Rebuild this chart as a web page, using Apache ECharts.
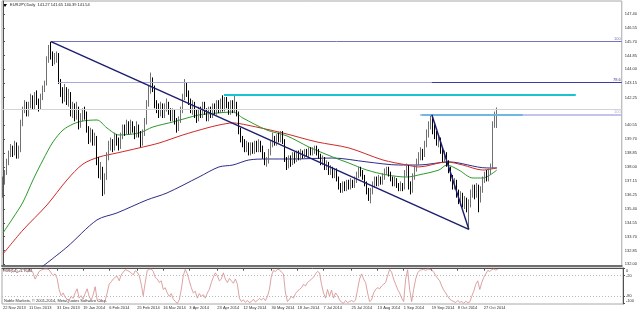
<!DOCTYPE html>
<html><head><meta charset="utf-8">
<script src="https://cdn.jsdelivr.net/npm/echarts@6/dist/echarts.min.js"></script>
<style>html,body{margin:0;padding:0;background:#fff}#c{width:640px;height:312px}</style>
</head><body><div id="c"></div><script>
const N_SLOTS = 310;
const opens = [136.6,137.1,137.6,138.3,138.8,139.1,138.9,139.4,138.7,139.0,
140.7,141.5,141.8,141.3,141.8,142.2,141.7,142.4,142.0,141.6,
142.3,142.8,143.1,144.6,145.2,144.9,144.5,144.8,144.9,143.3,
142.6,142.2,142.7,142.0,142.5,141.3,141.7,141.1,141.6,140.6,
141.0,141.4,141.2,140.3,139.7,140.1,139.5,139.8,138.4,137.6,
137.9,136.7,137.4,138.6,139.3,139.5,139.2,139.8,139.6,139.3,
139.9,140.4,140.1,140.6,140.2,140.7,140.3,139.9,140.5,140.0,
139.5,140.1,140.8,141.9,142.7,143.3,142.9,141.9,141.6,141.3,
141.7,141.2,141.6,141.9,141.4,141.0,141.4,140.8,140.4,140.9,
141.5,142.3,143.0,142.5,142.0,141.5,141.9,141.2,141.0,141.5,
141.2,141.8,141.4,141.0,141.5,141.2,141.7,141.4,141.9,141.5,
142.0,141.6,142.1,141.8,141.4,141.9,141.5,141.9,141.3,140.2,
139.7,139.5,139.1,139.4,138.9,139.3,139.0,139.4,139.1,139.5,
139.2,138.7,138.3,138.4,138.9,139.4,139.8,139.5,139.8,139.7,
139.9,139.6,138.5,138.1,138.5,138.3,138.7,138.5,138.9,138.6,
138.9,138.7,139.0,138.8,139.1,138.9,139.0,139.1,138.9,138.7,
138.3,138.5,138.0,138.2,137.7,137.9,137.5,137.8,137.3,136.8,
136.6,136.9,136.7,137.0,136.8,137.1,136.9,137.2,137.5,137.9,
137.7,137.4,137.0,136.6,136.2,136.5,136.9,137.2,137.0,137.3,
137.1,137.4,137.7,137.9,137.6,137.3,137.0,137.2,136.9,136.7,
136.9,136.7,137.6,138.0,136.9,136.6,137.4,137.9,138.3,138.6,
138.9,138.7,139.4,140.0,140.5,140.9,140.3,140.0,139.5,139.7,
139.0,138.6,138.8,138.2,137.9,137.3,136.9,137.1,136.4,136.0,
136.3,135.8,135.9,135.5,135.7,136.3,136.6,136.4,136.8,135.9,
136.6,137.2,137.5,137.3,137.7,138.0,140.6,141.27];
const closes = [137.1,137.6,138.3,138.8,139.1,138.9,139.4,138.7,139.0,140.7,
141.5,141.8,141.3,141.8,142.2,141.7,142.4,142.0,141.6,142.3,
142.8,143.1,144.6,145.2,144.9,144.5,144.8,144.9,143.3,142.6,
142.2,142.7,142.0,142.5,141.3,141.7,141.1,141.6,140.6,141.0,
141.4,141.2,140.3,139.7,140.1,139.5,139.8,138.4,137.6,137.9,
136.7,137.4,138.6,139.3,139.5,139.2,139.8,139.6,139.3,139.9,
140.4,140.1,140.6,140.2,140.7,140.3,139.9,140.5,140.0,139.5,
140.1,140.8,141.9,142.7,143.3,142.9,141.9,141.6,141.3,141.7,
141.2,141.6,141.9,141.4,141.0,141.4,140.8,140.4,140.9,141.5,
142.3,143.0,142.5,142.0,141.5,141.9,141.2,141.0,141.5,141.2,
141.8,141.4,141.0,141.5,141.2,141.7,141.4,141.9,141.5,142.0,
141.6,142.1,141.8,141.4,141.9,141.5,141.9,141.3,140.2,139.7,
139.5,139.1,139.4,138.9,139.3,139.0,139.4,139.1,139.5,139.2,
138.7,138.3,138.4,138.9,139.4,139.8,139.5,139.8,139.7,139.9,
139.6,138.5,138.1,138.5,138.3,138.7,138.5,138.9,138.6,138.9,
138.7,139.0,138.8,139.1,138.9,139.0,139.1,138.9,138.7,138.3,
138.5,138.0,138.2,137.7,137.9,137.5,137.8,137.3,136.8,136.6,
136.9,136.7,137.0,136.8,137.1,136.9,137.2,137.5,137.9,137.7,
137.4,137.0,136.6,136.2,136.5,136.9,137.2,137.0,137.3,137.1,
137.4,137.7,137.9,137.6,137.3,137.0,137.2,136.9,136.7,136.9,
136.7,137.6,138.0,136.9,136.6,137.4,137.9,138.3,138.6,138.9,
138.7,139.4,140.0,140.5,140.9,140.3,140.0,139.5,139.7,139.0,
138.6,138.8,138.2,137.9,137.3,136.9,137.1,136.4,136.0,136.3,
135.8,135.9,135.5,135.7,136.3,136.6,136.4,136.8,135.9,136.6,
137.2,137.5,137.3,137.7,138.0,140.6,141.27,141.54];
const highs = [137.4,137.8,138.5,139.0,139.4,139.3,139.6,139.5,139.3,140.9,
141.7,142.1,142.0,142.0,142.5,142.4,142.6,142.7,142.2,142.5,
143.0,143.3,144.8,145.5,145.7,145.1,145.0,145.1,145.0,143.4,
142.9,143.1,142.9,142.8,142.6,142.0,141.9,142.0,141.7,141.3,
141.6,141.7,141.4,140.5,140.4,140.3,140.1,139.9,138.6,138.3,
138.0,137.6,138.9,139.6,139.8,139.7,140.1,140.0,139.8,140.1,
140.6,140.6,140.9,140.8,140.9,140.8,140.5,140.8,140.6,140.2,
140.3,141.0,142.1,143.0,143.8,143.5,143.0,142.1,141.9,142.0,
141.9,141.9,142.2,142.0,141.6,141.6,141.5,141.0,141.1,141.7,
142.5,143.4,143.2,142.7,142.2,142.1,142.0,141.5,141.7,141.7,
142.0,142.0,141.6,141.7,141.7,141.9,141.9,142.1,142.1,142.2,
142.4,142.3,142.3,142.0,142.1,142.1,142.4,142.0,141.4,140.4,
139.9,139.7,139.6,139.5,139.5,139.5,139.6,139.6,139.7,139.6,
139.3,138.9,138.6,139.1,139.6,140.1,139.9,140.0,140.1,140.2,
140.2,139.7,138.6,138.7,138.7,138.9,138.9,139.0,139.0,139.1,
139.0,139.1,139.1,139.2,139.2,139.2,139.3,139.3,139.1,138.8,
138.7,138.6,138.4,138.3,138.1,138.0,137.9,137.9,137.4,137.0,
137.1,137.1,137.2,137.2,137.3,137.2,137.4,137.7,138.0,138.0,
137.8,137.5,137.1,136.7,136.7,137.1,137.4,137.4,137.5,137.4,
137.6,137.9,138.0,138.0,137.7,137.4,137.4,137.3,137.0,137.1,
137.0,137.8,138.2,138.1,137.1,137.6,138.1,138.5,138.9,139.2,
139.1,139.6,140.3,140.8,141.2,141.0,140.6,140.2,139.9,139.8,
139.2,139.0,138.9,138.4,138.0,137.5,137.3,137.2,136.6,136.5,
136.4,136.2,136.1,136.0,136.6,136.9,136.9,137.0,136.9,136.8,
137.4,137.7,137.8,137.9,138.2,140.8,141.4,141.65];
const lows = [136.1,136.9,137.5,138.1,138.6,138.6,138.7,138.5,138.5,138.9,
140.5,141.3,141.1,141.1,141.6,141.5,141.5,141.8,141.4,141.5,
142.1,142.6,143.0,144.4,144.6,144.2,144.3,144.4,143.1,142.3,
141.9,142.0,141.8,141.7,141.1,141.0,140.8,140.9,140.3,140.4,
140.8,140.9,140.1,139.4,139.5,139.3,139.3,138.1,137.3,137.2,
136.2,136.3,137.2,138.4,139.0,138.9,139.0,139.3,139.0,139.1,
139.7,139.9,140.0,140.0,140.0,140.1,139.7,139.8,139.8,139.2,
139.3,139.9,140.6,141.7,142.5,142.6,141.6,141.3,141.0,141.1,
141.0,141.0,141.4,141.2,140.8,140.8,140.6,140.1,140.2,140.7,
141.3,142.1,142.3,141.8,141.3,141.2,141.0,140.7,140.8,141.0,
141.0,141.2,140.8,140.8,141.0,141.0,141.2,141.2,141.3,141.3,
141.4,141.4,141.6,141.2,141.2,141.3,141.3,141.1,140.0,139.5,
139.2,138.9,138.9,138.7,138.7,138.8,138.8,138.9,138.9,138.9,
138.5,138.1,138.0,138.2,138.7,139.2,139.3,139.3,139.5,139.5,
139.4,138.3,137.8,137.9,138.0,138.1,138.2,138.3,138.4,138.4,
138.5,138.5,138.6,138.6,138.7,138.7,138.8,138.7,138.5,138.1,
138.1,137.8,137.8,137.5,137.5,137.3,137.3,137.1,136.6,136.4,
136.4,136.5,136.5,136.6,136.6,136.7,136.7,137.0,137.3,137.4,
137.2,136.8,136.3,135.9,135.75,136.3,136.7,136.8,136.8,136.9,
136.9,137.2,137.5,137.4,137.1,136.8,136.8,136.7,136.5,136.5,
136.5,136.6,137.4,136.6,136.3,136.4,137.2,137.7,138.1,138.4,
138.4,138.6,139.2,139.8,140.3,140.0,139.7,139.3,139.2,138.8,
138.3,138.3,138.0,137.6,137.1,136.6,136.6,136.1,135.7,135.6,
135.5,135.4,135.2,134.15,135.5,136.1,136.0,136.1,135.2,135.8,
136.4,137.0,137.1,137.1,137.5,137.9,140.4,140.39];
const wpr = [-8,-5,-3,-6,-4,-10,-5,-12,-8,-2,
-1,-4,-10,-6,-3,-12,-30,-20,-8,-4,
-2,-1,-1,-3,-12,-20,-15,-28,-60,-78,
-70,-82,-88,-92,-80,-86,-70,-58,-85,-78,
-88,-72,-58,-80,-92,-75,-52,-90,-96,-88,
-95,-92,-70,-45,-38,-30,-25,-22,-35,-18,
-10,-3,-5,-8,-12,-18,-6,-10,-20,-45,
-78,-40,-5,-2,-1,-8,-25,-30,-40,-35,
-60,-55,-70,-80,-72,-88,-95,-100,-90,-60,
-20,-2,-15,-35,-55,-70,-65,-85,-72,-80,
-75,-85,-70,-60,-40,-25,-12,-20,-35,-30,
-12,-30,-40,-28,-35,-42,-30,-45,-85,-95,
-90,-97,-92,-98,-95,-88,-96,-92,-86,-90,
-85,-92,-80,-60,-20,-5,-8,-2,-3,-10,
-15,-70,-95,-88,-80,-85,-72,-65,-60,-55,
-45,-50,-40,-35,-30,-25,-15,-8,-12,-45,
-70,-85,-60,-80,-62,-85,-70,-78,-90,-97,
-100,-92,-98,-95,-92,-96,-90,-60,-30,-15,
-30,-40,-70,-95,-90,-70,-60,-55,-58,-50,
-45,-40,-20,-2,-10,-30,-45,-60,-70,-85,
-95,-30,-3,-60,-95,-60,-30,-12,-5,-3,
-2,-5,-1,-2,-3,-10,-20,-28,-35,-50,
-62,-70,-80,-88,-92,-95,-98,-92,-97,-95,
-100,-94,-98,-96,-80,-65,-45,-35,-60,-40,
-25,-15,-5,-8,-3,-1,-4,-2];
// moving averages read at sample bars: [bar index, value]
const maGreen = [[0,133.93],[5,134.85],[10,135.83],[15,137.19],[20,138.42],[25,139.53],[30,140.26],[35,140.63],[40,140.82],[47,140.88],[52,140.39],[58,139.96],[68,140.08],[75,140.45],[85,140.76],[92,141.0],[98,141.19],[107,141.31],[115,141.37],[120,141.0],[132,140.26],[142,139.9],[153,139.22],[165,138.6],[173,138.23],[182,137.8],[192,137.5],[202,137.37],[208,137.5],[218,137.8],[222,138.11],[228,137.8],[235,137.31],[240,137.31],[247,137.8]];
const maRed = [[0,132.63],[10,134.11],[22,135.65],[32,137.19],[40,138.17],[48,138.6],[57,138.85],[68,139.16],[78,139.46],[90,139.96],[102,140.39],[108,140.57],[115,140.7],[122,140.57],[140,140.08],[157,139.53],[173,139.16],[190,138.42],[202,138.11],[208,137.99],[222,138.3],[230,138.11],[240,137.8],[247,137.93]];
const maNavy = [[18,131.7],[32,133.06],[47,134.73],[57,135.16],[72,135.96],[82,136.39],[98,137.37],[108,137.99],[115,138.11],[123,138.42],[132,138.48],[145,138.48],[165,138.54],[182,138.3],[198,138.11],[208,138.11],[223,138.3],[242,137.93],[247,137.93]];
// drawn objects: [startBar, startPrice, endBar, endPrice]
const trendMain = [24,145.70,233,134.15];
const trendSteep = [214.5,141.20,233,134.15];
const cyanUpper = [110.5,142.42,286.5,142.42];
const cyanLower = [209.5,141.20,260,141.20];
const fibTop = [24,145.70];
const fib786 = [27.5,143.18];
const fib786b = [214.5,143.18];
const fibLow = [208.5,141.20];
const lastPrice = 141.54;
const priceTicks = [132.00,132.85,133.70,134.55,135.40,136.25,137.15,138.00,138.85,139.70,140.55,142.25,143.15,144.00,144.85,145.70,146.55,147.40];
const wprTicks = [0,-20,-80,-100];
const xTickIdx = [0,13,27,40,53,67,80,93,107,120,134,147,160,174,187,200,214,227,240];
const xTickLabels = ['22 Nov 2013','11 Dec 2013','31 Dec 2013','19 Jan 2014','6 Feb 2014','25 Feb 2014','16 Mar 2014','3 Apr 2014','23 Apr 2014','12 May 2014','30 May 2014','18 Jun 2014','7 Jul 2014','25 Jul 2014','13 Aug 2014','1 Sep 2014','19 Sep 2014','8 Oct 2014','27 Oct 2014'];

const Y_MIN = 131.895, Y_MAX = 148.203;
const FONT = 'Liberation Sans';
const cats = Array.from({length:N_SLOTS},(_,i)=>String(i));
const labelMap = {}; xTickIdx.forEach((k,j)=>labelMap[k]=xTickLabels[j]);
const tickFn = (idx)=> labelMap[idx] !== undefined;
const ohlc = closes.map((c,i)=>[opens[i], c, lows[i], highs[i]]);
const last = closes.length-1;
const RIGHT = N_SLOTS-0.5;

function seg(a, color, width, label, type){
  return [{coord:[a[0],a[1]], lineStyle:{color:color,width:width,type:type||'solid'},
           label: label ? {show:true, position:'insideEndTop', formatter:label, fontSize:4, color:color, distance:1, fontFamily:FONT} : {show:false}},
          {coord:[a[2],a[3]]}];
}
function hline(p, color, width, label){ return seg([p[0],p[1],RIGHT,p[1]], color, width, label); }

const chart = echarts.init(document.getElementById('c'));
chart.setOption({
  animation:false,
  backgroundColor:'#ffffff',
  textStyle:{fontFamily:FONT},
  grid:[
    {left:2,right:17,top:1,height:265,show:true,borderColor:'#a8a8a8',borderWidth:1},
    {left:2,right:17,top:268,height:36,show:true,borderColor:'#a8a8a8',borderWidth:1}
  ],
  xAxis:[
    {type:'category',gridIndex:0,data:cats,boundaryGap:true,axisLine:{show:true,lineStyle:{color:'#707070',width:2}},axisTick:{show:false},axisLabel:{show:false},splitLine:{show:false}},
    {type:'value',gridIndex:0,min:-0.5,max:RIGHT,show:false},
    {type:'category',gridIndex:1,data:cats,boundaryGap:true,axisLine:{show:true,lineStyle:{color:'#505050'}},
     axisTick:{show:true,alignWithLabel:true,interval:tickFn,length:2,lineStyle:{color:'#505050'}},
     axisLabel:{interval:tickFn,formatter:(v,i)=>labelMap[i]||'',align:'left',fontSize:4,color:'#303030',margin:2}}
  ],
  yAxis:[
    {type:'value',gridIndex:0,position:'right',min:Y_MIN,max:Y_MAX,scale:true,
     axisLine:{show:true,lineStyle:{color:'#505050'}},
     axisTick:{show:true,length:2,customValues:priceTicks,lineStyle:{color:'#505050'}},
     axisLabel:{customValues:priceTicks,formatter:v=>v.toFixed(2),fontSize:4,color:'#303030',margin:3},
     splitLine:{show:false}},
    {type:'value',gridIndex:1,position:'right',min:-102,max:2,
     axisLine:{show:true,lineStyle:{color:'#505050'}},
     axisTick:{show:true,length:2,customValues:wprTicks,lineStyle:{color:'#505050'}},
     axisLabel:{customValues:wprTicks,fontSize:4,color:'#303030',margin:3,
       formatter:v=> v===0?'{t|0}':(v===-100?'{b|-100}':String(v)),
       rich:{t:{fontSize:4,padding:[4,0,0,0],color:'#303030'},b:{fontSize:4,padding:[0,0,4,0],color:'#303030'}}},
     splitLine:{show:false}}
  ],
  series:[
    {type:'line',xAxisIndex:1,yAxisIndex:0,data:maNavy,showSymbol:false,smooth:0.3,lineStyle:{color:'#2c2c8a',width:1},z:3,
     markLine:{silent:true,symbol:['none','none'],animation:false,data:[
       hline([-0.5,lastPrice],'#d4d4d4',1,null),
       hline(fibTop,'#7474bc',1,'100'),
       hline(fib786,'#a8a8dc',1,null),
       hline(fib786b,'#3c3ca0',1,'78.6'),
       hline(fibLow,'#b0b0e4',1.5,'100'),
       seg(cyanUpper,'#19c3d2',2,null),
       seg(cyanLower,'#55b5dd',1.5,null),
       seg(trendMain,'#1e1e6e',1.5,null),
       seg(trendSteep,'#1e1e6e',1.5,null)
     ]}},
    {type:'line',xAxisIndex:1,yAxisIndex:0,data:maRed,showSymbol:false,smooth:0.3,lineStyle:{color:'#d02828',width:1},z:3},
    {type:'line',xAxisIndex:1,yAxisIndex:0,data:maGreen,showSymbol:false,smooth:0.3,lineStyle:{color:'#2a9a2a',width:1},z:3},
    {type:'candlestick',xAxisIndex:0,yAxisIndex:0,data:ohlc,barWidth:1.2,z:4,
     itemStyle:{color:'#ffffff',color0:'#000000',borderColor:'#707070',borderColor0:'#000000',borderWidth:1},
     markLine:{silent:true,symbol:['none','none'],animation:false,
       lineStyle:{opacity:0},
       data:[{yAxis:lastPrice,label:{show:true,position:'end',formatter:lastPrice.toFixed(2),color:'#ffffff',backgroundColor:'#000000',fontSize:4,padding:[1,2,1,2],distance:1,fontFamily:FONT}}]}},
    {type:'line',xAxisIndex:2,yAxisIndex:1,data:wpr,showSymbol:false,lineStyle:{color:'#d48a8a',width:0.8},
     markLine:{silent:true,symbol:['none','none'],animation:false,label:{show:false},
       lineStyle:{color:'#b8b8b8',type:[1,2],width:1},
       data:[{yAxis:-20},{yAxis:-80}]}}
  ],
  graphic:[
    {type:'polygon',shape:{points:[[3,4],[7,4],[5,7]]},style:{fill:'#000'}},
    {type:'text',left:10,top:3,style:{text:'EURJPY,Daily  '+opens[last].toFixed(2)+' '+highs[last].toFixed(2)+' '+lows[last].toFixed(2)+' '+closes[last].toFixed(2),font:'4px '+FONT,fill:'#202020'}},
    {type:'text',left:4,top:269,style:{text:'%R(14) -1.7564',font:'4px '+FONT,fill:'#303030'}},
    {type:'text',left:4,top:299,style:{text:'Noble Markets, © 2001-2014, MetaQuotes Software Corp.',font:'4px '+FONT,fill:'#303030'}}
  ]
});
</script></body></html>
